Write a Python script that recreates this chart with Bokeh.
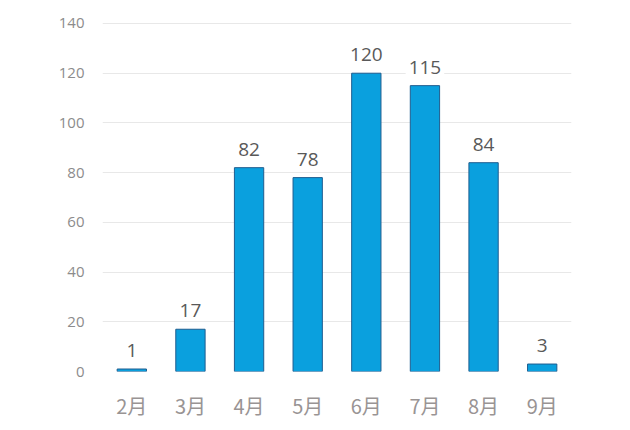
from bokeh.plotting import figure
from bokeh.models import ColumnDataSource, FixedTicker
from bokeh.core.properties import value
from bokeh.embed import file_html
from bokeh.resources import INLINE

months = ["2月", "3月", "4月", "5月", "6月", "7月", "8月", "9月"]
counts = [1, 17, 82, 78, 120, 115, 84, 3]
y_ticks = [0, 20, 40, 60, 80, 100, 120, 140]

src = ColumnDataSource(data=dict(m=months, c=counts, lbl=[str(v) for v in counts]))

p = figure(x_range=months, y_range=(0, 140.4), width=620, height=425,
           output_backend="svg", toolbar_location=None,
           min_border_left=102, min_border_right=49, min_border_top=22, min_border_bottom=54)
p.outline_line_color = None
p.background_fill_color = "white"

p.vbar(x="m", top="c", width=0.5, source=src, fill_color="#0aa0de",
       line_color="#1f5d8f", line_width=1)

p.text(x="m", y="c", text="lbl", source=src, text_align="center", text_baseline="bottom",
       y_offset=-9, text_font=value("Open Sans"), text_font_size="19px", text_color="#595959",
       background_fill_color="white", padding=3)

p.xgrid.grid_line_color = None
p.ygrid.grid_line_color = "#e8e8e8"
p.ygrid.grid_line_width = 1
p.yaxis.ticker = FixedTicker(ticks=y_ticks)

for ax in (p.xaxis[0], p.yaxis[0]):
    ax.axis_line_color = None
    ax.major_tick_line_color = None
    ax.minor_tick_line_color = None

p.yaxis.major_label_text_font = "Open Sans"
p.yaxis.major_label_text_font_size = "15px"
p.yaxis.major_label_text_color = "#8c8c8c"
p.yaxis.major_label_standoff = 12

p.xaxis.major_label_text_font = "Noto Sans CJK SC"
p.xaxis.major_label_text_font_size = "20px"
p.xaxis.major_label_text_color = "#999494"
p.xaxis.major_label_standoff = 13

open("out.html", "w").write(file_html(p, INLINE))
